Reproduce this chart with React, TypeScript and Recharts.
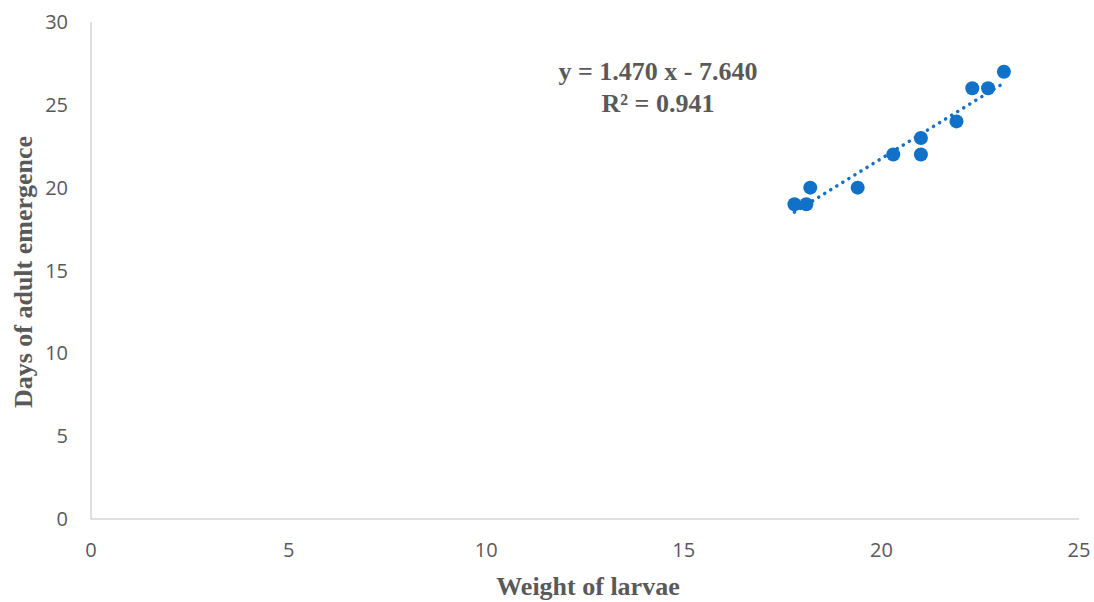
import React from "react";
import { ScatterChart, Scatter, XAxis, YAxis } from "recharts";

const weights = [17.8, 18.1, 18.2, 19.4, 20.3, 21.0, 21.0, 21.9, 22.3, 22.7, 23.1];
const days = [19, 19, 20, 20, 22, 22, 23, 24, 26, 26, 27];
const xTicks = [0, 5, 10, 15, 20, 25];
const yTicks = [0, 5, 10, 15, 20, 25, 30];
const slope = 1.47;
const intercept = -7.64;
const equationText = "y = 1.470 x - 7.640";
const r2Text = "R² = 0.941";

const points = weights.map((w, i) => ({ x: w, y: days[i] }));
const xMin = Math.min(...weights);
const xMax = Math.max(...weights);
const trend = [
  { x: xMin, y: slope * xMin + intercept },
  { x: xMax, y: slope * xMax + intercept },
];

const tickStyle = { fill: "#595959", fontSize: 20, fontFamily: "'Open Sans', sans-serif" };
const labelStyle: React.CSSProperties = {
  position: "absolute",
  fontFamily: "'Liberation Serif', 'Times New Roman', serif",
  fontWeight: "bold",
  color: "#595959",
  fontSize: 26,
  whiteSpace: "nowrap",
};

export default function App() {
  return (
    <div style={{ position: "absolute", left: 0, top: 0, width: 1094, height: 602, background: "#fff" }}>
      <ScatterChart width={1094} height={602} margin={{ top: 22, right: 15, bottom: 0, left: 0 }}>
        <XAxis
          type="number"
          dataKey="x"
          domain={[0, 25]}
          ticks={xTicks}
          tickSize={0}
          tickMargin={24}
          height={83}
          stroke="#BFBFBF"
          fontSize={20}
          tick={tickStyle}
        />
        <YAxis
          type="number"
          dataKey="y"
          domain={[0, 30]}
          ticks={yTicks}
          tickSize={0}
          tickMargin={23}
          width={91}
          stroke="#BFBFBF"
          fontSize={20}
          tick={tickStyle}
        />
        <Scatter
          data={trend}
          line={{ stroke: "#1170C8", strokeWidth: 3.5, strokeDasharray: "0.1 7", strokeLinecap: "round" }}
          shape={() => null}
          isAnimationActive={false}
        />
        <Scatter
          data={points}
          fill="#1170C8"
          shape={(p: any) => <circle cx={p.cx} cy={p.cy} r={7} fill="#1170C8" />}
          isAnimationActive={false}
        />
      </ScatterChart>
      <div style={{ ...labelStyle, left: 0, width: 1316, top: 56, textAlign: "center", lineHeight: "32px" }}>
        <div style={{ width: 1316, textAlign: "center" }}>{equationText}</div>
        <div style={{ width: 1316, textAlign: "center" }}>{r2Text}</div>
      </div>
      <div style={{ ...labelStyle, left: 588, top: 587, transform: "translate(-50%, -50%)" }}>Weight of larvae</div>
      <div style={{ ...labelStyle, left: 24, top: 272, transform: "translate(-50%, -50%) rotate(-90deg)" }}>
        Days of adult emergence
      </div>
    </div>
  );
}
